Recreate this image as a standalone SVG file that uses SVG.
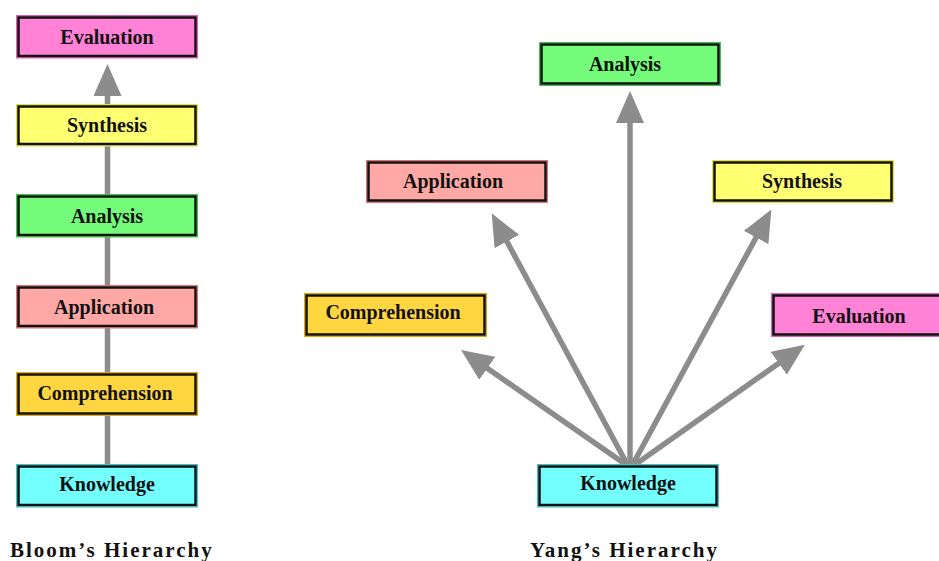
<svg xmlns="http://www.w3.org/2000/svg" width="939" height="561" viewBox="0 0 939 561">
  <defs>
    <style>
      .edge { fill: none; stroke: #8c8c8c; stroke-width: 5.5; }
      .frame { fill: none; stroke: #111; stroke-width: 2.5; }
      .label { font-family: "Liberation Serif", "Times New Roman", serif; font-weight: bold; font-size: 20px; fill: #111; text-anchor: middle; }
      .title { font-family: "Liberation Serif", "Times New Roman", serif; font-weight: bold; font-size: 21px; fill: #111; letter-spacing: 2px; }
      .eval { fill: #ff82d6; stroke: #e060b0; }
      .synth { fill: #ffff72; stroke: #e0e040; }
      .anal { fill: #74fb7a; stroke: #40c048; }
      .appl { fill: #ffa8a6; stroke: #e07070; }
      .comp { fill: #ffd640; stroke: #e0a800; }
      .know { fill: #74ffff; stroke: #40c0c0; }
    </style>
    <marker id="head" markerUnits="userSpaceOnUse" markerWidth="32" markerHeight="28" viewBox="0 0 32 28" refX="4" refY="14" orient="auto">
      <path d="M0,0 L32,14 L0,28 Z" fill="#8c8c8c"/>
    </marker>
  </defs>

  <!-- connectors -->
  <g id="connectors">
    <!-- Bloom: single vertical spine -->
    <line class="edge" x1="107.5" y1="464" x2="107.5" y2="92" marker-end="url(#head)"/>
    <!-- Yang: fan out from Knowledge -->
    <line class="edge" x1="625" y1="464" x2="484" y2="366" marker-end="url(#head)"/>
    <line class="edge" x1="627" y1="464" x2="505" y2="238" marker-end="url(#head)"/>
    <line class="edge" x1="630" y1="464" x2="630" y2="119" marker-end="url(#head)"/>
    <line class="edge" x1="633" y1="464" x2="758" y2="234" marker-end="url(#head)"/>
    <line class="edge" x1="636" y1="464" x2="782" y2="361" marker-end="url(#head)"/>
  </g>

  <!-- Bloom's hierarchy -->
  <g id="b-evaluation">
    <rect class="eval" x="16.5" y="15.5" width="181" height="42.5"/>
    <rect class="frame" x="18.5" y="17.5" width="177" height="38.5"/>
    <text class="label" x="107" y="44">Evaluation</text>
  </g>
  <g id="b-synthesis">
    <rect class="synth" x="16.5" y="104.5" width="181" height="41.5"/>
    <rect class="frame" x="18.5" y="106.5" width="177" height="37.5"/>
    <text class="label" x="107" y="132">Synthesis</text>
  </g>
  <g id="b-analysis">
    <rect class="anal" x="16.5" y="194.5" width="181" height="42.5"/>
    <rect class="frame" x="18.5" y="196.5" width="177" height="38.5"/>
    <text class="label" x="107" y="223">Analysis</text>
  </g>
  <g id="b-application">
    <rect class="appl" x="16.5" y="285.5" width="181" height="42.5"/>
    <rect class="frame" x="18.5" y="287.5" width="177" height="38.5"/>
    <text class="label" x="104" y="314">Application</text>
  </g>
  <g id="b-comprehension">
    <rect class="comp" x="16.5" y="372.5" width="181" height="43"/>
    <rect class="frame" x="18.5" y="374.5" width="177" height="39"/>
    <text class="label" x="105" y="400">Comprehension</text>
  </g>
  <g id="b-knowledge">
    <rect class="know" x="16.5" y="464.5" width="181" height="42.5"/>
    <rect class="frame" x="18.5" y="466.5" width="177" height="38.5"/>
    <text class="label" x="107" y="491">Knowledge</text>
  </g>
  <text class="title" x="10" y="557">Bloom’s Hierarchy</text>

  <!-- Yang's hierarchy -->
  <g id="y-analysis">
    <rect class="anal" x="539.5" y="42.5" width="181" height="43"/>
    <rect class="frame" x="541.5" y="44.5" width="177" height="39"/>
    <text class="label" x="625" y="71">Analysis</text>
  </g>
  <g id="y-application">
    <rect class="appl" x="366.5" y="160.5" width="181" height="42"/>
    <rect class="frame" x="368.5" y="162.5" width="177" height="38"/>
    <text class="label" x="453" y="188">Application</text>
  </g>
  <g id="y-synthesis">
    <rect class="synth" x="712.5" y="160.5" width="181" height="42"/>
    <rect class="frame" x="714.5" y="162.5" width="177" height="38"/>
    <text class="label" x="802" y="188">Synthesis</text>
  </g>
  <g id="y-comprehension">
    <rect class="comp" x="304.5" y="293.5" width="182" height="43"/>
    <rect class="frame" x="306.5" y="295.5" width="178" height="39"/>
    <text class="label" x="393" y="319">Comprehension</text>
  </g>
  <g id="y-evaluation">
    <rect class="eval" x="771.5" y="293.5" width="182" height="43"/>
    <rect class="frame" x="773.5" y="295.5" width="178" height="39"/>
    <text class="label" x="859" y="323">Evaluation</text>
  </g>
  <g id="y-knowledge">
    <rect class="know" x="537.5" y="464.5" width="181" height="42.5"/>
    <rect class="frame" x="539.5" y="466.5" width="177" height="38.5"/>
    <text class="label" x="628" y="490">Knowledge</text>
  </g>
  <text class="title" x="530" y="557">Yang’s Hierarchy</text>
</svg>
